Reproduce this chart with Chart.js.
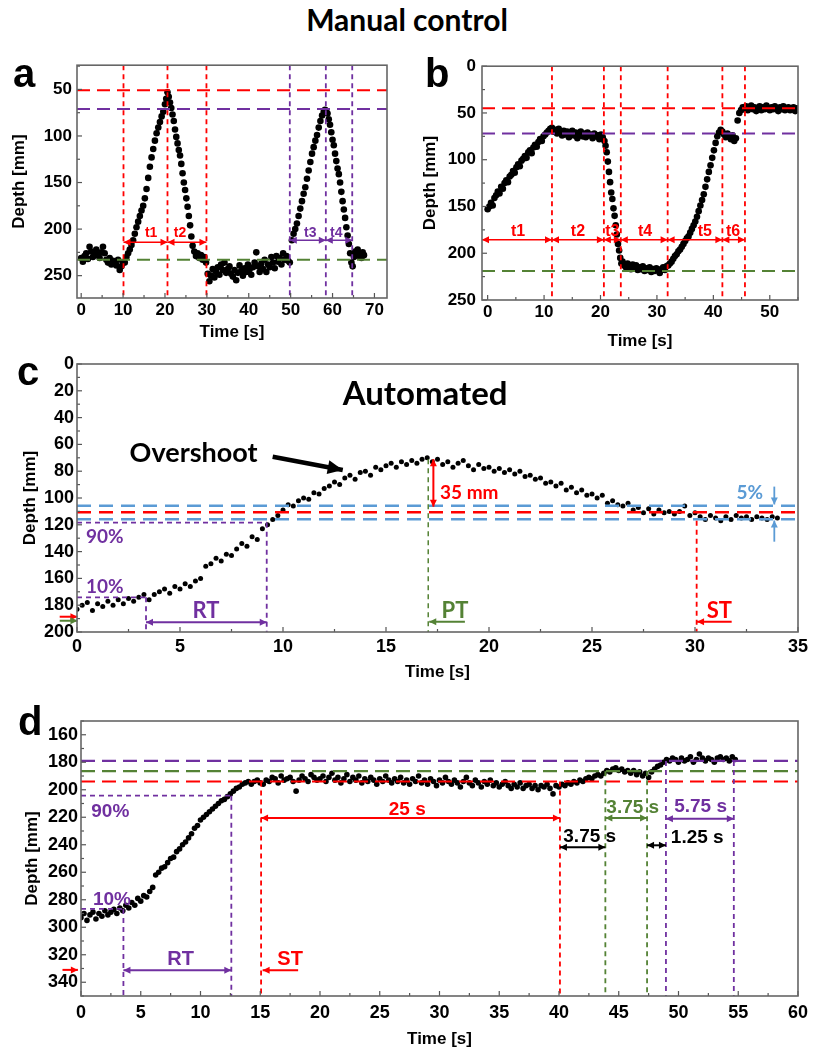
<!DOCTYPE html>
<html>
<head>
<meta charset="utf-8">
<script src="https://cdn.jsdelivr.net/npm/chart.js@4.4.1/dist/chart.umd.min.js"></script>
<style>
  body { margin: 0; background: #fff; width: 814px; height: 1052px; position: relative; overflow: hidden; }
  canvas { position: absolute; }
  .lbl { position: absolute; font-weight: bold; line-height: 1; color: #000; z-index: 5; }
</style>
</head>
<body>
<div class="lbl" style="left:0;width:814px;top:4px;text-align:center;font-family:Lato;font-size:30px">Manual control</div>
<div class="lbl" style="left:13px;top:53px;font-family:'Liberation Sans';font-size:40px">a</div>
<div class="lbl" style="left:425px;top:53px;font-family:'Liberation Sans';font-size:40px">b</div>
<div class="lbl" style="left:17px;top:351px;font-family:'Liberation Sans';font-size:40px">c</div>
<div class="lbl" style="left:18px;top:701px;font-family:'Liberation Sans';font-size:40px">d</div>

<canvas id="chartA" style="left:0;top:50px" width="400" height="310"></canvas>
<canvas id="chartB" style="left:410px;top:50px" width="404" height="310"></canvas>
<canvas id="chartC" style="left:0;top:350px" width="814" height="340"></canvas>
<canvas id="chartD" style="left:0;top:700px" width="814" height="352"></canvas>

<script>
// ---- panel a: manual control, two dips ----
const aTime = [0,0.4,0.8,1.2,1.6,2.0,2.4,2.8,3.2,3.6,4.0,4.4,4.8,5.2,5.6,6.0,6.4,6.8,7.2,7.6,8.0,8.4,8.8,9.2,9.6,10.0,
  10.4,10.8,11.2,11.6,12.0,12.4,12.8,13.2,13.6,14.0,14.4,14.8,15.2,15.6,16.0,16.4,16.8,17.2,17.6,18.0,18.4,18.8,19.2,19.6,20.0,20.3,20.6,
  20.9,21.2,21.5,21.8,22.1,22.4,22.7,23.0,23.3,23.6,23.9,24.2,24.5,24.8,25.1,25.4,25.7,26.0,26.3,26.6,27.0,27.4,27.8,28.2,28.6,29.0,29.4,29.8,
  30.2,30.6,31.0,31.4,31.8,32.2,32.6,33.0,33.4,33.8,34.2,34.6,35.0,35.4,35.8,36.2,36.6,37.0,37.4,37.8,38.2,38.6,39.0,39.4,39.8,
  40.2,40.6,41.0,41.4,41.8,42.2,42.6,43.0,43.4,43.8,44.2,44.6,45.0,45.4,45.8,46.2,46.6,47.0,47.4,47.8,48.2,48.6,49.0,49.4,49.8,
  50.3,50.7,51.1,51.5,51.9,52.3,52.7,53.1,53.5,53.9,54.3,54.7,55.1,55.5,55.9,56.3,56.7,57.1,57.5,57.9,58.2,58.5,
  58.8,59.1,59.4,59.7,60.0,60.3,60.6,60.9,61.2,61.5,61.8,62.1,62.4,62.7,63.0,63.3,63.6,63.9,64.2,64.5,64.8,
  65.1,65.4,65.7,66.0,66.3,66.6,66.9,67.2,67.5];
const aDepth = [231,235,229,226,232,219,224,230,227,222,228,231,225,219,226,233,236,231,238,234,236,239,233,244,240,236,
  236,230,226,222,217,212,205,198,192,186,180,175,167,157,145,133,123,114,105,97,91,85,79,74,66,60,53,
  58,64,70,77,84,93,101,108,115,121,130,140,150,158,167,176,186,196,208,218,224,229,226,231,228,233,230,236,
  248,256,250,243,252,246,241,249,238,244,236,247,243,240,248,251,244,255,247,239,245,250,242,246,238,
  243,249,241,236,225,240,246,237,243,233,246,238,241,230,236,242,229,235,231,238,226,233,229,234,236,
  212,205,200,194,186,178,170,162,155,146,137,128,119,112,105,99,91,84,78,74,72,73,
  76,82,88,96,104,110,119,127,135,141,150,160,170,179,188,198,207,216,226,236,240,
  230,224,228,222,229,226,231,225,228];

// ---- panel b: manual control, staircase ----
const bTime = [0.0,0.3,0.6,0.9,1.2,1.5,1.8,2.1,2.4,2.7,3.0,3.3,3.6,3.9,4.2,4.5,4.8,5.1,5.4,5.7,6.0,6.3,6.6,6.9,7.2,7.5,7.8,8.1,8.4,8.7,9.0,9.3,9.6,9.9,10.2,10.5,10.8,11.1,
  11.4,11.7,12.0,12.3,12.6,12.9,13.2,13.5,13.8,14.1,14.4,14.7,15.0,15.3,15.6,15.9,16.2,16.5,16.8,17.1,17.4,17.7,18.0,18.3,18.6,18.9,19.2,19.5,19.8,20.1,20.4,20.7,
  20.9,21.1,21.3,21.5,21.7,21.9,22.1,22.3,22.5,22.7,22.9,23.1,23.3,23.5,23.7,
  23.9,24.2,24.5,24.8,25.1,25.4,25.7,26.0,26.3,26.6,26.9,27.2,27.5,27.8,28.1,28.4,28.7,29.0,29.3,29.6,29.9,30.2,30.5,30.8,31.1,31.4,31.7,32.0,
  32.3,32.6,32.9,33.2,33.5,33.8,34.1,34.4,34.7,35.0,35.3,35.6,35.9,36.2,36.5,36.8,37.1,37.4,37.7,38.0,38.3,38.6,38.9,39.2,39.5,39.8,40.1,40.4,40.7,41.0,41.3,
  41.6,41.9,42.2,42.5,42.8,43.1,43.4,43.7,44.0,
  44.3,44.6,44.9,45.2,45.5,45.8,46.1,46.4,46.7,47.0,47.3,47.6,47.9,48.2,48.5,48.8,49.1,49.4,49.7,50.0,50.3,50.6,50.9,51.2,51.5,51.8,52.1,52.4,52.7,53.0,53.3,53.6,53.9,54.2,54.5,54.8];
const bDepth = [153,150,146,149,141,138,134,136,129,131,125,122,124,118,116,112,114,108,105,107,101,99,96,98,92,90,93,87,84,86,81,78,80,75,73,71,69,67,
  66,70,68,72,67,71,74,69,73,70,76,72,69,74,71,77,73,70,75,72,76,71,74,73,77,72,75,74,78,73,76,80,
  85,92,102,113,124,135,142,152,160,170,180,190,197,205,211,
  209,213,215,211,214,217,212,216,213,218,215,217,214,219,216,218,215,220,217,219,216,218,221,217,215,218,214,213,
  211,209,206,203,201,198,196,193,190,187,184,182,178,174,170,166,161,155,149,143,137,129,121,113,106,98,90,82,75,71,68,
  70,73,76,72,75,78,74,80,77,
  58,50,47,44,46,43,47,45,42,46,44,48,45,43,47,44,46,42,45,47,44,46,43,45,48,44,46,43,47,45,44,47,46,44,48,45];

// ---- panel c: automated, overshoot ----
const cTime = [0,0.25,0.5,0.75,1,1.25,1.5,1.75,2,2.25,2.5,2.75,3,3.25,3.5,3.75,4,4.25,4.5,4.75,5,5.25,5.5,5.75,
  6,6.25,6.5,6.75,7,7.25,7.5,7.75,8,8.25,8.5,8.75,9,9.25,9.5,9.75,10,10.25,10.5,10.75,11,11.25,11.5,11.75,
  12,12.25,12.5,12.75,13,13.25,13.5,13.75,14,14.25,14.5,14.75,15,15.25,15.5,15.75,16,16.25,16.5,16.75,17,17.25,17.5,17.75,
  18,18.25,18.5,18.75,19,19.25,19.5,19.75,20,20.25,20.5,20.75,21,21.25,21.5,21.75,22,22.25,22.5,22.75,23,23.25,23.5,23.75,
  24,24.25,24.5,24.75,25,25.25,25.5,25.75,26,26.25,26.5,26.75,27,27.25,27.5,27.75,28,28.25,28.5,28.75,29,29.25,29.5,29.75,
  30,30.25,30.5,30.75,31,31.25,31.5,31.75,32,32.25,32.5,32.75,33,33.25,33.5,33.75,34];
const cDepth = [183,180,178,184,179,181,177,180,176,179,175,177,174,172,176,172,170,168,171,166,168,164,166,162,
  160,151,149,145,147,142,143,138,134,136,129,131,123,120,116,113,109,105,106,102,100,101,96,97,
  93,91,88,90,85,83,86,81,80,83,77,79,76,74,77,73,75,72,74,71,70,73,71,75,
  73,77,74,72,76,79,75,78,77,80,78,81,79,82,80,84,83,86,85,89,88,91,89,94,
  92,96,94,98,97,100,98,104,102,105,106,104,109,107,111,108,112,109,111,110,112,110,106,113,
  111,114,116,113,115,117,114,116,113,115,114,116,114,115,116,114,115];

// ---- panel d: automated, staircase ----
const dTime = [0,0.25,0.5,0.75,1,1.25,1.5,1.75,2,2.25,2.5,2.75,3,3.25,3.5,3.75,4,4.25,4.5,4.75,
  5,5.25,5.5,5.75,6,6.25,6.5,6.75,7,7.25,7.5,7.75,8,8.25,8.5,8.75,9,9.25,9.5,9.75,
  10,10.25,10.5,10.75,11,11.25,11.5,11.75,12,12.25,12.5,12.75,13,13.25,13.5,13.75,14,14.25,14.5,14.75,
  15,15.25,15.5,15.75,16,16.25,16.5,16.75,17,17.25,17.5,17.75,18,18.25,18.5,18.75,19,19.25,19.5,19.75,
  20,20.25,20.5,20.75,21,21.25,21.5,21.75,22,22.25,22.5,22.75,23,23.25,23.5,23.75,24,24.25,24.5,24.75,
  25,25.25,25.5,25.75,26,26.25,26.5,26.75,27,27.25,27.5,27.75,28,28.25,28.5,28.75,29,29.25,29.5,29.75,
  30,30.25,30.5,30.75,31,31.25,31.5,31.75,32,32.25,32.5,32.75,33,33.25,33.5,33.75,34,34.25,34.5,34.75,
  35,35.25,35.5,35.75,36,36.25,36.5,36.75,37,37.25,37.5,37.75,38,38.25,38.5,38.75,39,39.25,39.5,39.75,
  40,40.25,40.5,40.75,41,41.25,41.5,41.75,42,42.25,42.5,42.75,43,43.25,43.5,43.75,44,44.25,44.5,44.75,
  45,45.25,45.5,45.75,46,46.25,46.5,46.75,47,47.25,47.5,47.75,48,48.25,48.5,48.75,49,49.25,49.5,49.75,
  50,50.25,50.5,50.75,51,51.25,51.5,51.75,52,52.25,52.5,52.75,53,53.25,53.5,53.75,54,54.25,54.5,54.75];
const dDepth = [293,290,295,291,289,294,290,292,288,291,289,287,290,286,288,284,286,282,284,279,
  281,277,278,274,271,262,260,257,256,253,250,249,245,243,240,238,235,232,228,226,
  222,220,218,216,214,212,210,208,207,205,203,201,199,198,196,195,194,196,194,193,
  195,196,193,194,191,192,195,190,193,192,191,194,201,193,190,192,194,189,191,193,
  192,190,194,191,188,193,191,195,192,189,194,191,193,190,195,192,194,191,193,196,
  192,194,190,193,195,192,194,191,195,193,196,192,194,190,195,193,196,192,194,197,
  193,195,191,194,196,193,195,198,194,191,195,197,193,195,198,194,196,193,197,195,
  198,196,194,197,199,196,198,195,199,197,196,199,197,200,197,198,196,199,203,197,
  198,196,197,195,196,194,195,193,194,192,191,192,190,189,190,188,186,187,185,184,
  186,185,187,186,188,186,189,187,190,188,191,187,185,183,182,180,178,179,177,178,
  180,177,179,178,176,180,178,174,177,179,177,178,180,177,176,178,177,179,176,178];

// tick labels
const aXTicks = [0,10,20,30,40,50,60,70];
const aYTicks = [50,100,150,200,250];
const bXTicks = [0,10,20,30,40,50];
const bYTicks = [0,50,100,150,200,250];
const cXTicks = [0,5,10,15,20,25,30,35];
const cYTicks = [0,20,40,60,80,100,120,140,160,180,200];
const dXTicks = [0,5,10,15,20,25,30,35,40,45,50,55,60];
const dYTicks = [160,180,200,220,240,260,280,300,320,340];

const RED = '#ff0000', PUR = '#7030a0', GRN = '#548235', BLU = '#5b9bd5', BLK = '#000';
const AR = "bold 14px 'Liberation Sans'", AR16 = "bold 16px 'Liberation Sans'";
const AR19 = "bold 19px 'Liberation Sans'", AR20 = "bold 20px 'Liberation Sans'";
const LT19 = "bold 19px Lato", LT21 = "bold 22px Lato";

// guide lines, arrows and labels (in data units)
const aGuides = {
  h: [{y: 51, c: RED}, {y: 71, c: PUR}, {y: 233, c: GRN}],
  v: [{x: 10.1, c: RED}, {x: 20.6, c: RED}, {x: 29.9, c: RED}, {x: 49.8, c: PUR}, {x: 58.4, c: PUR}, {x: 64.7, c: PUR}],
  arrows: [{x0: 10.1, y0: 214, x1: 20.6, y1: 214, c: RED, both: true}, {x0: 20.6, y0: 214, x1: 29.9, y1: 214, c: RED, both: true},
           {x0: 49.8, y0: 212, x1: 58.4, y1: 212, c: PUR, both: true}, {x0: 58.4, y0: 212, x1: 64.7, y1: 212, c: PUR, both: true}],
  texts: [{x: 16.7, y: 209, t: 't1', c: RED, f: AR}, {x: 23.6, y: 209, t: 't2', c: RED, f: AR},
          {x: 54.7, y: 208, t: 't3', c: PUR, f: AR}, {x: 60.9, y: 208, t: 't4', c: PUR, f: AR}]
};
const bGuides = {
  h: [{y: 45, c: RED}, {y: 72, c: PUR}, {y: 219, c: GRN}],
  v: [{x: 11.4, c: RED}, {x: 20.6, c: RED}, {x: 23.6, c: RED}, {x: 31.9, c: RED}, {x: 41.6, c: RED}, {x: 45.6, c: RED}],
  arrows: [{x0: -1, y0: 185.5, x1: 11.4, y1: 185.5, c: RED, both: true}, {x0: 11.4, y0: 185.5, x1: 20.6, y1: 185.5, c: RED, both: true},
           {x0: 20.6, y0: 185.5, x1: 23.6, y1: 185.5, c: RED, both: true}, {x0: 23.6, y0: 185.5, x1: 31.9, y1: 185.5, c: RED, both: true},
           {x0: 31.9, y0: 185.5, x1: 41.6, y1: 185.5, c: RED, both: true}, {x0: 41.6, y0: 185.5, x1: 45.6, y1: 185.5, c: RED, both: true}],
  texts: [{x: 5.4, y: 182, t: 't1', c: RED, f: AR16}, {x: 16.0, y: 182, t: 't2', c: RED, f: AR16}, {x: 22.1, y: 182, t: 't3', c: RED, f: AR16},
          {x: 27.9, y: 182, t: 't4', c: RED, f: AR16}, {x: 38.5, y: 182, t: 't5', c: RED, f: AR16}, {x: 43.5, y: 182, t: 't6', c: RED, f: AR16}]
};
const cGuides = {
  h: [{y: 105.7, c: BLU, w: 2.5, dash: [14, 8]}, {y: 115.9, c: BLU, w: 2.5, dash: [14, 8]}, {y: 110.7, c: RED, w: 2.5, dash: [14, 8]},
      {y: 118.4, c: PUR, x1: 9.21, w: 1.8, dash: [5, 4]}, {y: 174.1, c: PUR, x1: 3.35, w: 1.8, dash: [5, 4]}],
  v: [{x: 3.35, y0: 174.1, c: PUR}, {x: 9.21, y0: 118.4, c: PUR}, {x: 17.05, y0: 71, c: GRN, w: 1.5}, {x: 30.08, y0: 117, c: RED}],
  arrows: [{x0: 3.35, y0: 192.8, x1: 9.21, y1: 192.8, c: PUR, both: true, w: 2},
           {x0: 18.83, y0: 192.3, x1: 17.1, y1: 192.3, c: GRN, w: 2},
           {x0: 31.78, y0: 192.3, x1: 30.1, y1: 192.3, c: RED, w: 2},
           {x0: 17.3, y0: 71, x1: 17.3, y1: 106.5, c: RED, both: true, w: 2},
           {x0: 33.85, y0: 91.5, x1: 33.85, y1: 104.8, c: BLU, w: 1.8},
           {x0: 33.85, y0: 132.6, x1: 33.85, y1: 116.8, c: BLU, w: 1.8},
           {x0: -0.84, y0: 188.6, x1: 0.02, y1: 188.6, c: RED, w: 2},
           {x0: -0.84, y0: 191.6, x1: 0.02, y1: 191.6, c: GRN, w: 2},
           {x0: 9.5, y0: 69.2, x1: 12.9, y1: 79.1, c: BLK, w: 4.5, head: 15, hw: 7}],
  texts: [{x: 16.9, y: 30.6, t: 'Automated', c: BLK, f: "bold 33px Lato"},
          {x: 5.66, y: 73.1, t: 'Overshoot', c: BLK, f: "bold 27px Lato"},
          {x: 0.44, y: 133.3, t: '90%', c: PUR, f: LT19, a: 'left'}, {x: 0.44, y: 171.1, t: '10%', c: PUR, f: LT19, a: 'left'},
          {x: 6.26, y: 189.8, t: 'RT', c: PUR, f: LT21}, {x: 17.7, y: 189.5, t: 'PT', c: GRN, f: LT21, a: 'left'},
          {x: 30.57, y: 189.5, t: 'ST', c: RED, f: LT21, a: 'left'}, {x: 17.62, y: 101, t: '35 mm', c: RED, f: LT19, a: 'left'},
          {x: 33.3, y: 101, t: '5%', c: BLU, f: LT19, a: 'right'}]
};
const dGuides = {
  h: [{y: 179, c: PUR, w: 2.2, dash: [14, 7]}, {y: 186.5, c: GRN, w: 2.2, dash: [14, 7]}, {y: 194, c: RED, w: 2.2, dash: [14, 7]},
      {y: 204.3, c: PUR, x1: 12.58, w: 1.8, dash: [5, 4]}, {y: 286.7, c: PUR, x1: 3.55, w: 1.8, dash: [5, 4]}],
  v: [{x: 3.55, y0: 286.7, c: PUR}, {x: 12.58, y0: 204.3, c: PUR}, {x: 15.07, y0: 194, c: RED}, {x: 40.08, y0: 194, c: RED},
      {x: 43.88, y0: 186.5, c: GRN}, {x: 47.37, y0: 186.5, c: GRN}, {x: 48.95, y0: 179, c: PUR}, {x: 54.63, y0: 179, c: PUR}],
  arrows: [{x0: 3.55, y0: 331.3, x1: 12.58, y1: 331.3, c: PUR, both: true, w: 2},
           {x0: 18.17, y0: 331.3, x1: 15.2, y1: 331.3, c: RED, w: 2},
           {x0: -1.55, y0: 331, x1: -0.26, y1: 331, c: RED, w: 2},
           {x0: 15.07, y0: 220.5, x1: 40.08, y1: 220.5, c: RED, both: true, w: 2},
           {x0: 40.08, y0: 241.9, x1: 43.88, y1: 241.9, c: BLK, both: true, w: 2},
           {x0: 43.88, y0: 220.5, x1: 47.37, y1: 220.5, c: GRN, both: true, w: 2},
           {x0: 47.37, y0: 240.4, x1: 48.95, y1: 240.4, c: BLK, both: true, w: 2},
           {x0: 48.95, y0: 221, x1: 54.63, y1: 221, c: PUR, both: true, w: 2}],
  texts: [{x: 0.86, y: 220, t: '90%', c: PUR, f: AR19, a: 'left'}, {x: 1.0, y: 283.6, t: '10%', c: PUR, f: AR19, a: 'left'},
          {x: 8.34, y: 327.2, t: 'RT', c: PUR, f: AR20}, {x: 17.5, y: 327.2, t: 'ST', c: RED, f: AR20},
          {x: 27.3, y: 218, t: '25 s', c: RED, f: AR19}, {x: 40.36, y: 238, t: '3.75 s', c: BLK, f: AR19, a: 'left'},
          {x: 43.96, y: 217, t: '3.75 s', c: GRN, f: AR19, a: 'left'}, {x: 49.36, y: 238.7, t: '1.25 s', c: BLK, f: AR19, a: 'left'},
          {x: 49.64, y: 216.4, t: '5.75 s', c: PUR, f: AR19, a: 'left'}]
};

function line(ctx, x0, y0, x1, y1, color, w, dash) {
  ctx.beginPath();
  ctx.setLineDash(dash || []);
  ctx.strokeStyle = color;
  ctx.lineWidth = w;
  ctx.moveTo(x0, y0);
  ctx.lineTo(x1, y1);
  ctx.stroke();
}

function head(ctx, x0, y0, x1, y1, len, hw) {
  const a = Math.atan2(y1 - y0, x1 - x0);
  const bx = x1 - len * Math.cos(a), by = y1 - len * Math.sin(a);
  ctx.beginPath();
  ctx.moveTo(x1, y1);
  ctx.lineTo(bx + hw * Math.sin(a), by - hw * Math.cos(a));
  ctx.lineTo(bx - hw * Math.sin(a), by + hw * Math.cos(a));
  ctx.closePath();
  ctx.fill();
}

// draws frame, inward ticks and all the guides
function guides(g) {
  return {
    id: 'guides',
    afterDatasetsDraw(chart) {
      const {ctx, chartArea: ca, scales: {x, y}} = chart;
      const px = v => x.getPixelForValue(v), py = v => y.getPixelForValue(v);
      ctx.save();
      g.h.forEach(l => line(ctx, px(l.x0 ?? x.min), py(l.y), px(l.x1 ?? x.max), py(l.y), l.c, l.w || 2, l.dash || [13, 7]));
      g.v.forEach(l => line(ctx, px(l.x), py(l.y0 ?? y.min), px(l.x), py(l.y1 ?? y.max), l.c, l.w || 1.8, [5, 4]));
      g.arrows.forEach(a => {
        const x0 = px(a.x0), y0 = py(a.y0), x1 = px(a.x1), y1 = py(a.y1);
        line(ctx, x0, y0, x1, y1, a.c, a.w || 1.5, []);
        ctx.fillStyle = a.c;
        head(ctx, x0, y0, x1, y1, a.head || 7, a.hw || 3.5);
        if (a.both) head(ctx, x1, y1, x0, y0, a.head || 7, a.hw || 3.5);
      });
      g.texts.forEach(t => {
        ctx.font = t.f;
        ctx.fillStyle = t.c;
        ctx.textAlign = t.a || 'center';
        ctx.textBaseline = 'alphabetic';
        ctx.fillText(t.t, px(t.x), py(t.y));
      });
      // inward ticks
      ctx.setLineDash([]);
      ctx.strokeStyle = '#555';
      ctx.lineWidth = 1.2;
      const xt = x.ticks.map(t => t.value), yt = y.ticks.map(t => t.value);
      const dx = xt[1] - xt[0], dy = yt[1] - yt[0];
      for (let v = xt[0] - dx / 2; v <= x.max; v += dx / 2) {
        if (v < x.min) continue;
        const len = xt.includes(v) ? 5 : 3;
        ctx.beginPath(); ctx.moveTo(px(v), ca.bottom); ctx.lineTo(px(v), ca.bottom - len); ctx.stroke();
      }
      for (let v = yt[0] - dy / 2; v <= y.max; v += dy / 2) {
        if (v < y.min) continue;
        const len = yt.includes(v) ? 5 : 3;
        ctx.beginPath(); ctx.moveTo(ca.left, py(v)); ctx.lineTo(ca.left + len, py(v)); ctx.stroke();
      }
      ctx.strokeStyle = '#666';
      ctx.lineWidth = 1.6;
      ctx.strokeRect(ca.left, ca.top, ca.right - ca.left, ca.bottom - ca.top);
      ctx.restore();
    }
  };
}

function panel(id, xs, ys, o) {
  const pts = xs.map((t, i) => ({x: t, y: ys[i]}));
  const tickFont = {family: "'Liberation Sans'", size: o.fs, weight: 'bold'};
  const titleFont = {family: "'Liberation Sans'", size: o.ts, weight: 'bold'};
  return new Chart(document.getElementById(id), {
    type: 'scatter',
    data: {datasets: [{data: pts, pointRadius: o.r, backgroundColor: '#000', borderWidth: 0}]},
    options: {
      responsive: false, animation: false, devicePixelRatio: 1,
      layout: {padding: {top: o.pt, right: o.pr, bottom: 0, left: 0}},
      plugins: {legend: {display: false}, tooltip: {enabled: false}},
      scales: {
        x: {
          type: 'linear', min: o.xmin, max: o.xmax,
          afterBuildTicks: s => { s.ticks = o.xt.map(v => ({value: v})); },
          afterFit: s => { s.height = o.xh; },
          grid: {display: false, drawTicks: false}, border: {display: false},
          ticks: {font: tickFont, color: '#000', padding: o.xpad, maxRotation: 0, autoSkip: false},
          title: {display: true, text: 'Time [s]', font: titleFont, color: '#000', padding: {top: 0, bottom: o.xtb}}
        },
        y: {
          type: 'linear', reverse: true, min: o.ymin, max: o.ymax,
          afterBuildTicks: s => { s.ticks = o.yt.map(v => ({value: v})); },
          afterFit: s => { s.width = o.yw; },
          grid: {display: false, drawTicks: false}, border: {display: false},
          ticks: {font: tickFont, color: '#000', padding: o.ypad, autoSkip: false},
          title: {display: true, text: 'Depth [mm]', font: titleFont, color: '#000', padding: {top: o.ytt, bottom: 0}}
        }
      }
    },
    plugins: [guides(o.g)]
  });
}

panel('chartA', aTime, aDepth, {xmin: -1, xmax: 73, ymin: 24, ymax: 274, xt: aXTicks, yt: aYTicks, r: 3.3,
  pt: 9, pr: 13, yw: 77, xh: 62, fs: 17, ts: 17, xpad: 2, ypad: 5, xtb: 17, ytt: 9, g: aGuides});
panel('chartB', bTime, bDepth, {xmin: -1, xmax: 55, ymin: 0, ymax: 250, xt: bXTicks, yt: bYTicks, r: 3.3,
  pt: 11, pr: 16, yw: 72, xh: 60, fs: 17, ts: 17, xpad: 2, ypad: 6, xtb: 8, ytt: 10, g: bGuides});
panel('chartC', cTime, cDepth, {xmin: 0, xmax: 35, ymin: 0, ymax: 200, xt: cXTicks, yt: cYTicks, r: 2.5,
  pt: 14, pr: 16, yw: 77, xh: 58, fs: 18, ts: 17, xpad: 4, ypad: 3, xtb: 7, ytt: 20, g: cGuides});
panel('chartD', dTime, dDepth, {xmin: 0, xmax: 60, ymin: 150, ymax: 350, xt: dXTicks, yt: dYTicks, r: 2.8,
  pt: 21, pr: 11, yw: 81, xh: 56, fs: 18, ts: 17, xpad: 6, ypad: 3, xtb: 2, ytt: 22, g: dGuides});
</script>
</body>
</html>
